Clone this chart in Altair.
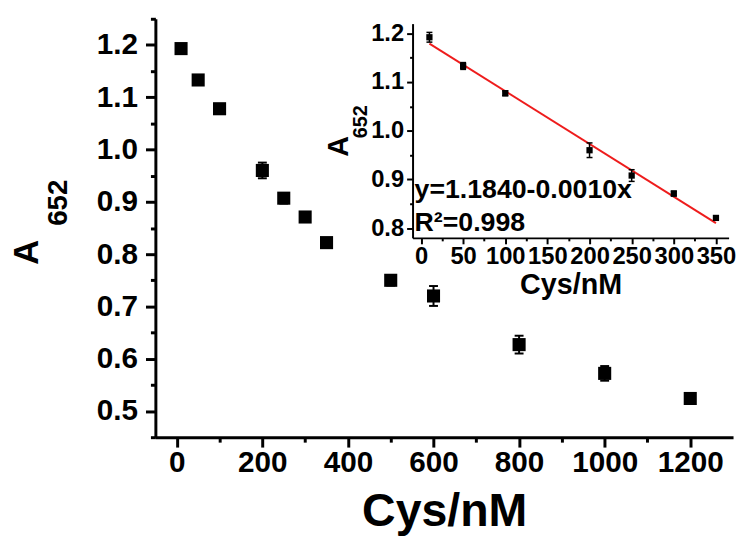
import altair as alt
import pandas as pd

FONT = "Liberation Sans"

# ---- main plot data ----
cys = [10, 50, 100, 200, 250, 300, 350, 500, 600, 800, 1000, 1200]
a652 = [1.193, 1.133, 1.078, 0.960, 0.907, 0.871, 0.822, 0.750, 0.720, 0.627, 0.572, 0.524]
a652_err = [0.006, 0.008, 0.008, 0.015, 0.010, 0.006, 0.006, 0.010, 0.019, 0.017, 0.014, 0.007]

# ---- inset data ----
inset_cys = [10, 50, 100, 200, 250, 300, 350]
inset_a652 = [1.192, 1.133, 1.077, 0.960, 0.908, 0.871, 0.821]
inset_err = [0.010, 0.007, 0.005, 0.015, 0.012, 0.005, 0.004]

eq_text = ["y=1.1840-0.0010x"]
r2_text = ["R\u00b2=0.998"]
ytitle_main = ["A"]
ytitle_sub = ["652"]

main_x_ticks = [0, 100, 200, 300, 400, 500, 600, 700, 800, 900, 1000, 1100, 1200]
main_y_ticks = [0.45, 0.5, 0.55, 0.6, 0.65, 0.7, 0.75, 0.8, 0.85, 0.9, 0.95,
                1.0, 1.05, 1.1, 1.15, 1.2, 1.25]
inset_x_ticks = [0, 25, 50, 75, 100, 125, 150, 175, 200, 225, 250, 275, 300, 325, 350]
inset_y_ticks = [0.8, 0.85, 0.9, 0.95, 1.0, 1.05, 1.1, 1.15, 1.2]

main_df = pd.DataFrame({"c": cys, "a": a652, "e": a652_err})
main_df["lo"] = main_df["a"] - main_df["e"]
main_df["hi"] = main_df["a"] + main_df["e"]

in_df = pd.DataFrame({"c": inset_cys, "a": inset_a652, "e": inset_err})
in_df["lo"] = in_df["a"] - in_df["e"]
in_df["hi"] = in_df["a"] + in_df["e"]

W, H = 584, 423

Y_MAJOR = "abs(datum.value*10 - round(datum.value*10)) < 0.000001"

# ---- main scales / axes ----
xs_main = alt.Scale(domain=[-50, 1300], nice=False, zero=False)
ys_main = alt.Scale(domain=[0.45, 1.25], nice=False, zero=False)

ax_main_x = alt.Axis(
    orient="bottom", values=main_x_ticks, format="d", title="Cys/nM",
    titleFont=FONT, titleFontSize=47, titleFontWeight="bold", titleColor="black",
    titlePadding=11,
    labelFont=FONT, labelFontSize=30, labelFontWeight="bold", labelColor="black",
    labelPadding=1, labelOverlap=False, labelFlush=False,
    labelExpr="datum.value % 200 === 0 ? datum.label : ''",
    tickSize={"condition": {"test": "datum.value % 200 === 0", "value": 10}, "value": 5},
    tickWidth=3, tickColor="black", domainWidth=3, domainColor="black", grid=False,
)
ax_main_y = alt.Axis(
    orient="left", values=main_y_ticks, title=None,
    labelFont=FONT, labelFontSize=30, labelFontWeight="bold", labelColor="black",
    labelPadding=8, labelOverlap=False, labelFlush=False,
    labelExpr=Y_MAJOR + " ? format(datum.value, '.1f') : ''",
    tickSize={"condition": {"test": Y_MAJOR, "value": 10}, "value": 5},
    tickWidth=3, tickColor="black", domainWidth=3, domainColor="black", grid=False,
)

mx = alt.X("c:Q", scale=xs_main, axis=ax_main_x)

main_base = alt.Chart(main_df)
main_rule = main_base.mark_rule(color="black", strokeWidth=2).encode(
    x=mx, y=alt.Y("lo:Q", scale=ys_main, axis=ax_main_y), y2="hi:Q")
main_caps = main_base.transform_fold(["lo", "hi"], as_=["k", "v"]).mark_tick(
    orient="horizontal", color="black", size=9, thickness=2, opacity=1).encode(
    x=mx, y=alt.Y("v:Q", scale=ys_main, axis=ax_main_y))
main_pts = main_base.mark_square(color="black", size=175, opacity=1).encode(
    x=mx, y=alt.Y("a:Q", scale=ys_main, axis=ax_main_y))

t_A = alt.Chart(pd.DataFrame({"t": ytitle_main})).mark_text(
    font=FONT, fontSize=35, fontWeight="bold", color="black", angle=270,
    align="center", baseline="alphabetic").encode(
    text="t:N", x=alt.value(-119), y=alt.value(236))
t_sub = alt.Chart(pd.DataFrame({"t": ytitle_sub})).mark_text(
    font=FONT, fontSize=28, fontWeight="bold", color="black", angle=270,
    align="center", baseline="alphabetic").encode(
    text="t:N", x=alt.value(-89), y=alt.value(186))

main_layer = alt.layer(main_rule, main_caps, main_pts)

# ---- inset scales / axes ----
xs_in = alt.Scale(domain=[-10, 365], range=[260, 579.5], nice=False, zero=False)
ys_in = alt.Scale(domain=[0.78, 1.22], range=[221.5, 4.9], nice=False, zero=False)

ax_in_x = alt.Axis(
    orient="bottom", offset=-(H - 221.5), values=inset_x_ticks, format="d",
    title="Cys/nM", titleFont=FONT, titleFontSize=29, titleFontWeight="bold",
    titleColor="black", titlePadding=2,
    labelFont=FONT, labelFontSize=24, labelFontWeight="bold", labelColor="black",
    labelPadding=1, labelOverlap=False, labelFlush=False,
    labelExpr="datum.value % 50 === 0 ? datum.label : ''",
    tickSize={"condition": {"test": "datum.value % 50 === 0", "value": 6}, "value": 3},
    tickWidth=2, tickColor="black", domainWidth=2, domainColor="black", grid=False,
)
ax_in_y = alt.Axis(
    orient="left", offset=-260, values=inset_y_ticks, title=None,
    labelFont=FONT, labelFontSize=24, labelFontWeight="bold", labelColor="black",
    labelPadding=3, labelOverlap=False, labelFlush=False,
    labelExpr=Y_MAJOR + " ? format(datum.value, '.1f') : ''",
    tickSize={"condition": {"test": Y_MAJOR, "value": 6}, "value": 3},
    tickWidth=2, tickColor="black", domainWidth=2, domainColor="black", grid=False,
)

ix = alt.X("c:Q", scale=xs_in, axis=ax_in_x)

in_base = alt.Chart(in_df)
in_rule = in_base.mark_rule(color="black", strokeWidth=1.5).encode(
    x=ix, y=alt.Y("lo:Q", scale=ys_in, axis=ax_in_y), y2="hi:Q")
in_caps = in_base.transform_fold(["lo", "hi"], as_=["k", "v"]).mark_tick(
    orient="horizontal", color="black", size=6, thickness=1.5, opacity=1).encode(
    x=ix, y=alt.Y("v:Q", scale=ys_in, axis=ax_in_y))
in_pts = in_base.mark_square(color="black", size=40, opacity=1).encode(
    x=ix, y=alt.Y("a:Q", scale=ys_in, axis=ax_in_y))
in_fit = in_base.transform_regression("c", "a").mark_line(
    color="#ee1c1c", strokeWidth=2).encode(
    x=ix, y=alt.Y("a:Q", scale=ys_in, axis=ax_in_y))

inset_layer = alt.layer(in_fit, in_rule, in_caps, in_pts)

t_eq = alt.Chart(pd.DataFrame({"t": eq_text})).mark_text(
    font=FONT, fontSize=27, fontWeight="bold", color="black",
    align="left", baseline="alphabetic").encode(
    text="t:N", x=alt.value(262), y=alt.value(181))
t_r2 = alt.Chart(pd.DataFrame({"t": r2_text})).mark_text(
    font=FONT, fontSize=27, fontWeight="bold", color="black",
    align="left", baseline="alphabetic").encode(
    text="t:N", x=alt.value(262), y=alt.value(215))

t_iA = alt.Chart(pd.DataFrame({"t": ytitle_main})).mark_text(
    font=FONT, fontSize=29, fontWeight="bold", color="black", angle=270,
    align="center", baseline="alphabetic").encode(
    text="t:N", x=alt.value(195), y=alt.value(129))
t_isub = alt.Chart(pd.DataFrame({"t": ytitle_sub})).mark_text(
    font=FONT, fontSize=20, fontWeight="bold", color="black", angle=270,
    align="center", baseline="alphabetic").encode(
    text="t:N", x=alt.value(214), y=alt.value(104))

chart = alt.layer(
    main_layer, inset_layer, t_A, t_sub, t_eq, t_r2, t_iA, t_isub
).resolve_scale(x="independent", y="independent").properties(
    width=W, height=H,
    autosize=alt.AutoSizeParams(type="none"),
    padding={"left": 149, "top": 8, "right": 4, "bottom": 97},
    background="white",
).configure_view(stroke=None)

chart.save("out.html", embed_options={"renderer": "svg", "actions": False})
